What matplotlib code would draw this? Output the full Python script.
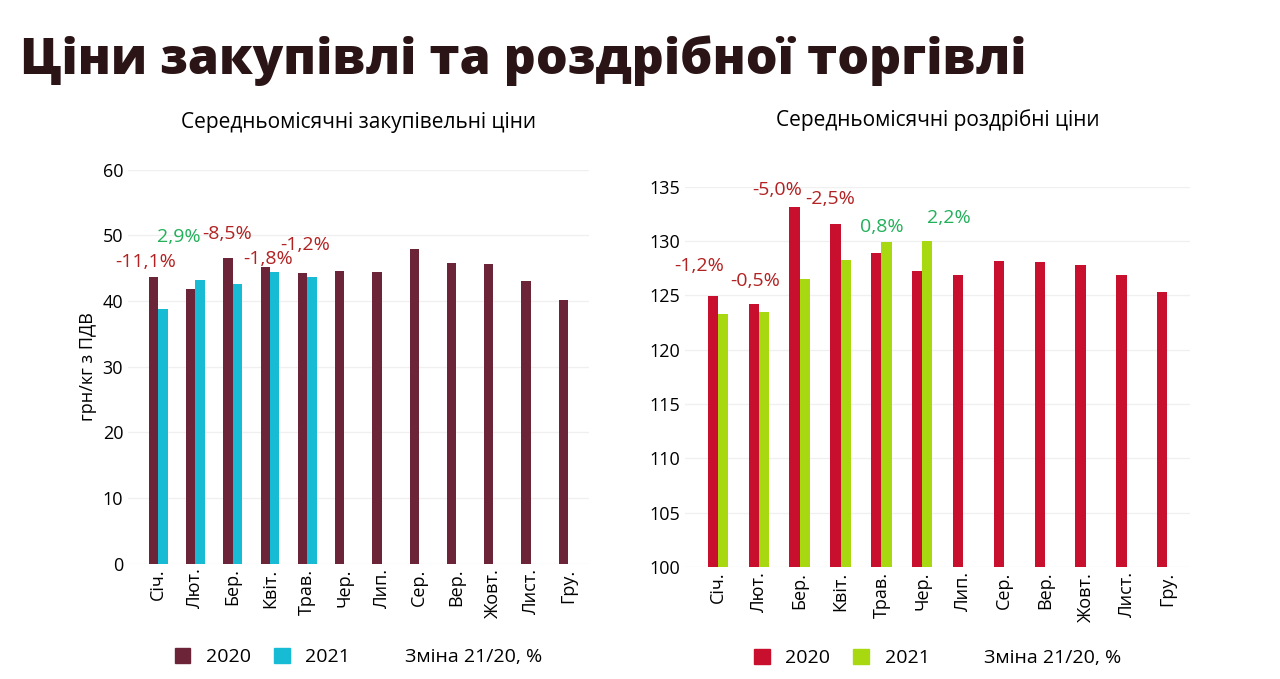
import numpy as np
import matplotlib.pyplot as plt
from matplotlib.patches import Patch

months = ['Січ.', 'Лют.', 'Бер.', 'Квіт.', 'Трав.', 'Чер.', 'Лип.', 'Сер.', 'Вер.', 'Жовт.', 'Лист.', 'Гру.']

buy_2020 = [43.7, 41.9, 46.5, 45.2, 44.2, 44.5, 44.4, 47.9, 45.8, 45.6, 43.0, 40.2]
buy_2021 = [38.8, 43.2, 42.6, 44.4, 43.7]
buy_change = ['-11,1%', '2,9%', '-8,5%', '-1,8%', '-1,2%']

ret_2020 = [124.9, 124.2, 133.1, 131.6, 128.9, 127.2, 126.9, 128.2, 128.1, 127.8, 126.9, 125.3]
ret_2021 = [123.3, 123.5, 126.5, 128.3, 129.9, 130.0]
ret_change = ['-1,2%', '-0,5%', '-5,0%', '-2,5%', '0,8%', '2,2%']

# label placement (x shift from month centre, y in data units)
buy_lab_dx = [-0.35, -0.45, -0.15, -0.05, -0.05]
buy_lab_y = [46.0, 49.8, 50.2, 46.4, 48.5]
ret_lab_dx = [-0.45, -0.1, -0.55, -0.25, 0.0, 0.65]
ret_lab_y = [127.7, 126.3, 134.7, 133.9, 131.3, 132.1]

RED = '#b22222'
GREEN = '#22b05a'
plt.rcParams['font.family'] = ['Open Sans', 'DejaVu Sans']

fig = plt.figure(figsize=(12.8, 6.79), dpi=100)
fig.text(0.016, 0.91, 'Ціни закупівлі та роздрібної торгівлі', fontsize=36,
         fontweight='heavy', color='#2a1416', va='center')

x = np.arange(len(months))
w = 0.25


def draw(ax, v20, v21, changes, c20, c21, ylim, ticks, title, ldx, ly, pad):
    ax.bar(x - w / 2, v20, w, color=c20)
    ax.bar(x[:len(v21)] + w / 2, v21, w, color=c21)
    ax.set_ylim(*ylim)
    ax.set_yticks(ticks)
    ax.set_xticks(x)
    ax.set_xticklabels(months, rotation=90, fontsize=13)
    ax.tick_params(axis='y', labelsize=13, length=0)
    ax.tick_params(axis='x', length=0)
    ax.grid(axis='y', color='#f0f0f0', linewidth=1)
    ax.set_axisbelow(True)
    for s in ax.spines.values():
        s.set_visible(False)
    ax.set_title(title, fontsize=15, pad=pad)
    for i, ch in enumerate(changes):
        col = GREEN if not ch.startswith('-') else RED
        ax.text(i + ldx[i], ly[i], ch, ha='center', va='center', color=col, fontsize=14)
    handles = [Patch(color=c20, label='2020'), Patch(color=c21, label='2021'),
               Patch(color='none', label='Зміна 21/20, %')]
    ax.legend(handles=handles, loc='upper center', bbox_to_anchor=(0.5, -0.17), ncol=3,
              frameon=False, fontsize=14, handlelength=0.8, handleheight=0.8,
              columnspacing=1.2)


ax1 = fig.add_axes([0.1, 0.17, 0.36, 0.58])
draw(ax1, buy_2020, buy_2021, buy_change, '#6b2438', '#17bcd4', (0, 60),
     range(0, 61, 10), 'Середньомісячні закупівельні ціни', buy_lab_dx, buy_lab_y, 30)
ax1.set_ylabel('грн/кг з ПДВ', fontsize=13)

ax2 = fig.add_axes([0.535, 0.165, 0.395, 0.56])
draw(ax2, ret_2020, ret_2021, ret_change, '#c8102e', '#a8d810', (100, 135),
     range(100, 136, 5), 'Середньомісячні роздрібні ціни', ret_lab_dx, ret_lab_y, 44)

fig.savefig('out.png', dpi=100, facecolor='white')
